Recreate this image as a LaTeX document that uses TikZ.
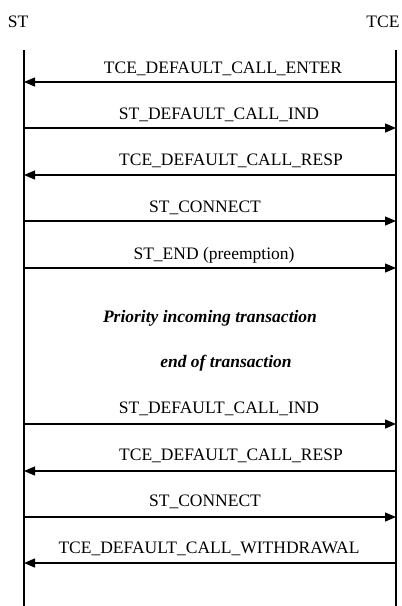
\documentclass[tikz,border=0pt]{standalone}
\usepackage{fontspec}
\setmainfont{Liberation Serif}
\usetikzlibrary{arrows.meta}
\begin{document}
\begin{tikzpicture}[x=1pt,y=-1pt,
  lifeline/.style={line width=1.7pt},
  msg/.style={line width=1.3pt,-{Triangle[length=11pt,width=9pt]}},
  lbl/.style={font=\fontsize{17.5}{20}\selectfont,inner sep=0pt,anchor=base},
  note/.style={font=\fontsize{17.5}{20}\selectfont\bfseries\itshape,inner sep=0pt,anchor=base}]
\useasboundingbox (0,0) rectangle (402,606);

% entity names
\node[lbl] (st)  at (18,27) {ST};
\node[lbl] (tce) at (383,27) {TCE};

% lifelines
\coordinate (stTop) at (24,50);
\coordinate (stBot) at (24,606);
\coordinate (tceTop) at (396,50);
\coordinate (tceBot) at (396,606);
\draw[lifeline] (stTop) -- (stBot);
\draw[lifeline] (tceTop) -- (tceBot);

% message end points on the lifelines
\foreach \i/\y in {1/82,2/128,3/175,4/221,5/268,6/424,7/471,8/517,9/563}{
  \coordinate (L\i) at (24,\y);
  \coordinate (R\i) at (396,\y);
}

% messages
\draw[msg] (R1) -- (L1);
\node[lbl] (m1) at (223,73) {TCE\_DEFAULT\_CALL\_ENTER};
\draw[msg] (L2) -- (R2);
\node[lbl] (m2) at (219,119) {ST\_DEFAULT\_CALL\_IND};
\draw[msg] (R3) -- (L3);
\node[lbl] (m3) at (231,165) {TCE\_DEFAULT\_CALL\_RESP};
\draw[msg] (L4) -- (R4);
\node[lbl] (m4) at (205,212) {ST\_CONNECT};
\draw[msg] (L5) -- (R5);
\node[lbl] (m5) at (214,259) {ST\_END (preemption)};

% transaction notes
\node[note] (n1) at (210,322) {Priority incoming transaction};
\node[note] (n2) at (226,367) {end of transaction};

\draw[msg] (L6) -- (R6);
\node[lbl] (m6) at (219,413) {ST\_DEFAULT\_CALL\_IND};
\draw[msg] (R7) -- (L7);
\node[lbl] (m7) at (231,460) {TCE\_DEFAULT\_CALL\_RESP};
\draw[msg] (L8) -- (R8);
\node[lbl] (m8) at (205,506) {ST\_CONNECT};
\draw[msg] (R9) -- (L9);
\node[lbl] (m9) at (209,553) {TCE\_DEFAULT\_CALL\_WITHDRAWAL};
\end{tikzpicture}
\end{document}
